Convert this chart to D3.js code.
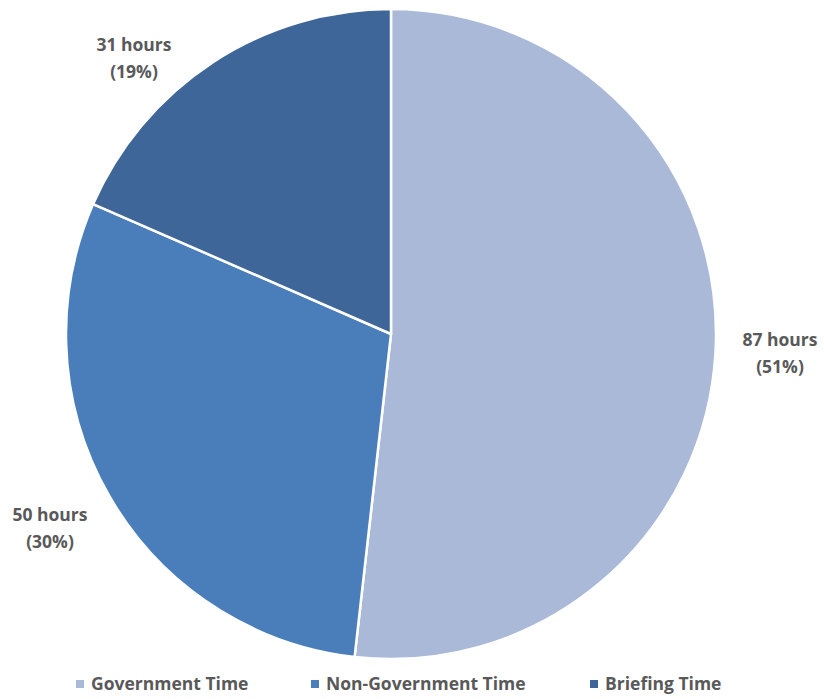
<!DOCTYPE html>
<html>
<head>
<meta charset="utf-8">
<script src="https://cdn.jsdelivr.net/npm/d3@7"></script>
<style>
  html, body { margin: 0; padding: 0; background: #fff; }
  svg text { font-family: "Open Sans", Lato, sans-serif; fill: #595959; }
</style>
</head>
<body>
<svg id="chart" width="824" height="699"></svg>
<script>
// Hours spent per activity
const categories = ["Government Time", "Non-Government Time", "Briefing Time"];
const hours = [87, 50, 31];
const percentLabels = ["51%", "30%", "19%"];
const colors = ["#A9B9D7", "#4A7EBB", "#3E6699"];

const svg = d3.select("#chart");
const cx = 391, cy = 334, radius = 325;

const pie = d3.pie().sort(null).value(d => d.value);
const data = categories.map((c, i) => ({ name: c, value: hours[i], pct: percentLabels[i], color: colors[i] }));
const arcs = pie(data);
const arc = d3.arc().innerRadius(0).outerRadius(radius);

const g = svg.append("g").attr("transform", `translate(${cx},${cy})`);
g.selectAll("path")
  .data(arcs)
  .join("path")
  .attr("d", arc)
  .attr("fill", d => d.data.color)
  .attr("stroke", "#fff")
  .attr("stroke-width", 2.5)
  .attr("stroke-linejoin", "round");

// Data labels placed outside the rim of each slice
const labelPos = [
  [780, 346],
  [50, 521],
  [134, 51]
];
arcs.forEach((d, i) => {
  const t = svg.append("text")
    .attr("x", labelPos[i][0])
    .attr("y", labelPos[i][1])
    .attr("text-anchor", "middle")
    .attr("font-size", 17.5)
    .attr("font-weight", "bold");
  t.append("tspan").attr("x", labelPos[i][0]).text(`${d.data.value} hours`);
  t.append("tspan").attr("x", labelPos[i][0]).attr("dy", 27).text(`(${d.data.pct})`);
});

// Legend along the bottom
const legendX = [76, 311, 590];
const legend = svg.append("g");
data.forEach((d, i) => {
  legend.append("rect")
    .attr("x", legendX[i])
    .attr("y", 680)
    .attr("width", 8)
    .attr("height", 8)
    .attr("fill", d.color);
  legend.append("text")
    .attr("x", legendX[i] + 15)
    .attr("y", 690)
    .attr("font-size", 17.5)
    .attr("font-weight", "bold")
    .text(d.name);
});
</script>
</body>
</html>
